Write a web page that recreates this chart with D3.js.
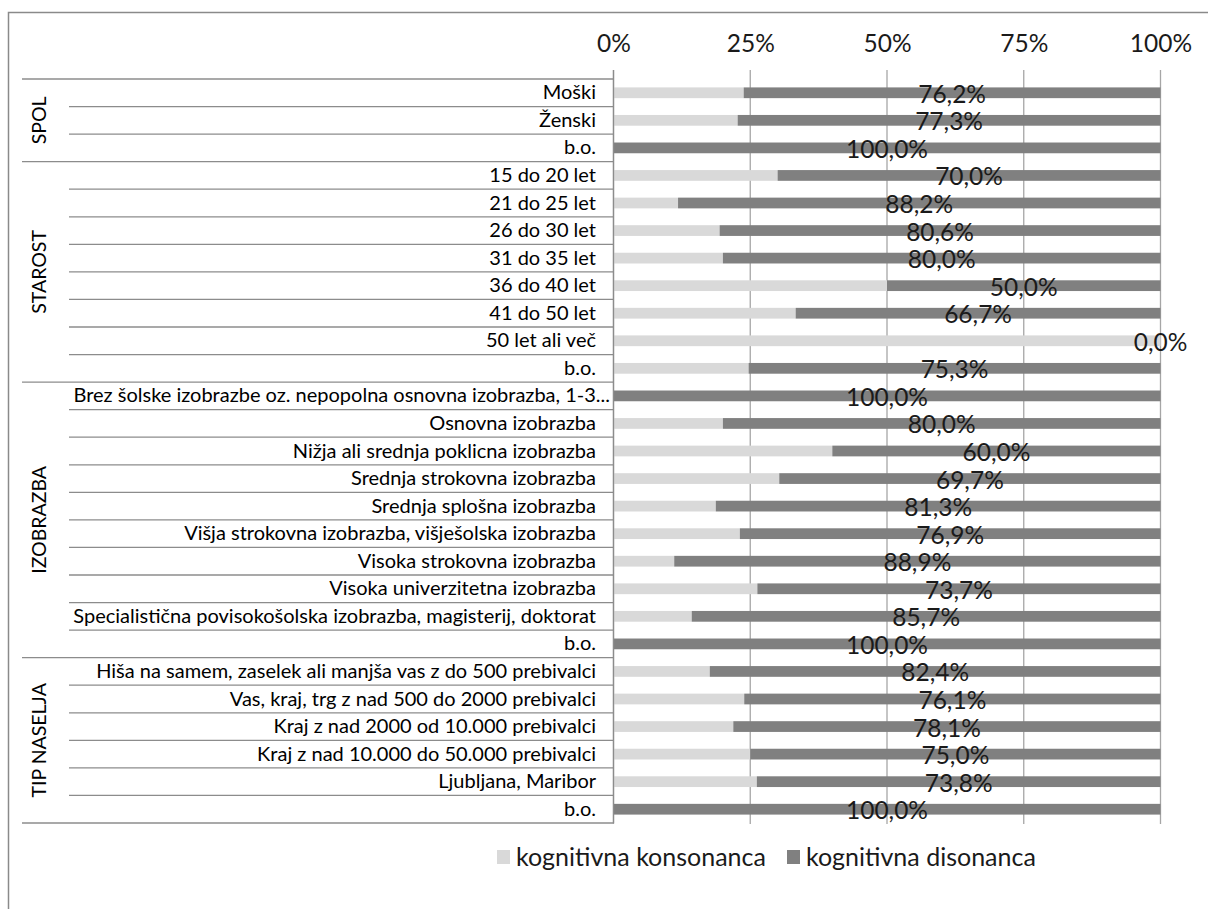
<!DOCTYPE html>
<html>
<head>
<meta charset="utf-8">
<script src="https://cdn.jsdelivr.net/npm/d3@7"></script>
<style>
  html, body { margin: 0; padding: 0; background: #fff; }
  svg { display: block; font-family: Lato, "Noto Sans", sans-serif; }
</style>
</head>
<body>
<svg id="chart" width="1208" height="909"></svg>
<script>
// Group headers and the categories that belong to each
const groups = ["SPOL", "STAROST", "IZOBRAZBA", "TIP NASELJA"];
const groupSizes = [3, 8, 10, 6];

const categories = [
  "Moški", "Ženski", "b.o.",
  "15 do 20 let", "21 do 25 let", "26 do 30 let", "31 do 35 let", "36 do 40 let",
  "41 do 50 let", "50 let ali več", "b.o.",
  "Brez šolske izobrazbe oz. nepopolna osnovna izobrazba, 1-3...",
  "Osnovna izobrazba", "Nižja ali srednja poklicna izobrazba",
  "Srednja strokovna izobrazba", "Srednja splošna izobrazba",
  "Višja strokovna izobrazba, višješolska izobrazba",
  "Visoka strokovna izobrazba", "Visoka univerzitetna izobrazba",
  "Specialistična povisokošolska izobrazba, magisterij, doktorat", "b.o.",
  "Hiša na samem, zaselek ali manjša vas z do 500 prebivalci",
  "Vas, kraj, trg z nad 500 do 2000 prebivalci",
  "Kraj z nad 2000 od 10.000 prebivalci",
  "Kraj z nad 10.000 do 50.000 prebivalci",
  "Ljubljana, Maribor", "b.o."
];

// Shares in percent
const konsonanca = [
  23.8, 22.7, 0.0,
  30.0, 11.8, 19.4, 20.0, 50.0, 33.3, 100.0, 24.7,
  0.0, 20.0, 40.0, 30.3, 18.7, 23.1, 11.1, 26.3, 14.3, 0.0,
  17.6, 23.9, 21.9, 25.0, 26.2, 0.0
];
const disonanca = [
  76.2, 77.3, 100.0,
  70.0, 88.2, 80.6, 80.0, 50.0, 66.7, 0.0, 75.3,
  100.0, 80.0, 60.0, 69.7, 81.3, 76.9, 88.9, 73.7, 85.7, 100.0,
  82.4, 76.1, 78.1, 75.0, 73.8, 100.0
];

const seriesNames = ["kognitivna konsonanca", "kognitivna disonanca"];
const tickValues = [0, 25, 50, 75, 100];
const tickLabels = ["0%", "25%", "50%", "75%", "100%"];

const colors = { kons: "#d9d9d9", dis: "#808080", grid: "#a6a6a6", rule: "#8c8c8c" };

const svg = d3.select("#chart");

// Outer chart frame
svg.append("rect")
  .attr("x", 8.5).attr("y", 12.5)
  .attr("width", 1400).attr("height", 1200)
  .attr("fill", "none").attr("stroke", "#8a8a8a").attr("stroke-width", 1.5);

const plot = { left: 613.5, right: 1160.5, top: 79, bottom: 823 };
const x = d3.scaleLinear().domain([0, 100]).range([plot.left, plot.right]);
const rowIdx = d3.range(categories.length);
const y = d3.scaleBand().domain(rowIdx).range([plot.top, plot.bottom]).paddingInner(0).paddingOuter(0);
const barH = y.bandwidth() * 0.39;

// Vertical gridlines, starting slightly above the table as tick marks
svg.append("g").selectAll("line")
  .data(tickValues)
  .join("line")
  .attr("x1", d => x(d)).attr("x2", d => x(d))
  .attr("y1", 70).attr("y2", plot.bottom + 1)
  .attr("stroke", colors.grid).attr("stroke-width", 1.3);

// Percent labels along the top
const xAxis = d3.axisTop(x).tickValues(tickValues)
  .tickFormat((d, i) => tickLabels[i]).tickSize(0).tickPadding(0);
const axisG = svg.append("g").attr("transform", `translate(0,52)`).call(xAxis);
axisG.select(".domain").remove();
axisG.selectAll("text")
  .attr("font-family", "Lato, sans-serif")
  .attr("font-size", 24.5)
  .attr("fill", "#1a1a1a")
  .attr("dy", 0);

// Bars: light share first, dark share stacked after it
const rows = rowIdx.map(i => ({ i, k: konsonanca[i], d: disonanca[i] }));

svg.append("g").selectAll("rect")
  .data(rows.filter(r => r.k > 0))
  .join("rect")
  .attr("x", r => x(0))
  .attr("y", r => y(r.i) + (y.bandwidth() - barH) / 2)
  .attr("width", r => x(r.k) - x(0))
  .attr("height", barH)
  .attr("fill", colors.kons);

svg.append("g").selectAll("rect")
  .data(rows.filter(r => r.d > 0))
  .join("rect")
  .attr("x", r => x(r.k))
  .attr("y", r => y(r.i) + (y.bandwidth() - barH) / 2)
  .attr("width", r => x(r.k + r.d) - x(r.k))
  .attr("height", barH)
  .attr("fill", colors.dis);

// Value labels for the dark series, centred on its segment
const fmt = v => v.toFixed(1).replace(".", ",") + "%";
svg.append("g").selectAll("text")
  .data(rows)
  .join("text")
  .attr("x", r => x(r.k + r.d / 2))
  .attr("y", r => y(r.i) + y.bandwidth() / 2 + 10)
  .attr("text-anchor", "middle")
  .attr("font-size", 24.5)
  .attr("fill", "#1a1a1a")
  .text(r => fmt(r.d));

// Category axis: row rules, group rules, labels
const ruleG = svg.append("g");
const groupStarts = [];
let acc = 0;
groupSizes.forEach(s => { groupStarts.push(acc); acc += s; });

rowIdx.forEach(i => {
  const isGroupStart = groupStarts.includes(i);
  ruleG.append("line")
    .attr("x1", isGroupStart ? 22 : 69).attr("x2", plot.left)
    .attr("y1", y(i)).attr("y2", y(i))
    .attr("stroke", colors.rule).attr("stroke-width", 1.3);
});
ruleG.append("line")
  .attr("x1", 22).attr("x2", plot.left)
  .attr("y1", plot.bottom).attr("y2", plot.bottom)
  .attr("stroke", colors.rule).attr("stroke-width", 1.3);

// Value axis line at 0%
ruleG.append("line")
  .attr("x1", plot.left).attr("x2", plot.left)
  .attr("y1", 70).attr("y2", plot.bottom)
  .attr("stroke", colors.rule).attr("stroke-width", 1.3);

svg.append("g").selectAll("text")
  .data(rowIdx)
  .join("text")
  .attr("x", i => categories[i].endsWith("...") ? 610 : 596)
  .attr("y", i => y(i) + y.bandwidth() / 2 + 6.5)
  .attr("text-anchor", "end")
  .attr("font-size", 20)
  .attr("fill", "#000")
  .text(i => categories[i]);

svg.append("g").selectAll("text")
  .data(groups)
  .join("text")
  .attr("transform", (g, j) => {
    const cy = (y(groupStarts[j]) + y(groupStarts[j] + groupSizes[j] - 1) + y.bandwidth()) / 2;
    return `translate(46,${cy}) rotate(-90)`;
  })
  .attr("text-anchor", "middle")
  .attr("font-size", 19.5)
  .attr("fill", "#000")
  .text(g => g);

// Legend
const legend = svg.append("g").attr("transform", "translate(497,850)");
const legendItems = [
  { name: seriesNames[0], color: colors.kons, x: 0 },
  { name: seriesNames[1], color: colors.dis, x: 290 }
];
legendItems.forEach(it => {
  legend.append("rect").attr("x", it.x).attr("y", 0).attr("width", 13).attr("height", 14).attr("fill", it.color);
  legend.append("text").attr("x", it.x + 19).attr("y", 16).attr("font-size", 25).attr("fill", "#1a1a1a").text(it.name);
});
</script>
</body>
</html>
